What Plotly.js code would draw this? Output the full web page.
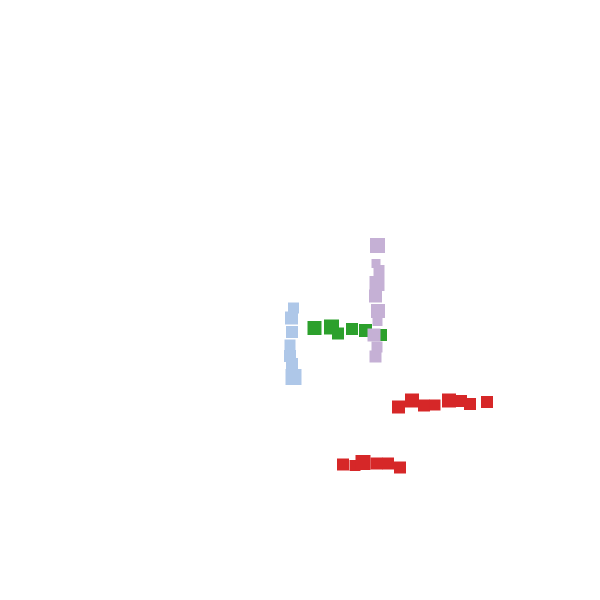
<!DOCTYPE html>
<html>
<head>
<meta charset="utf-8">
<script src="https://cdn.plot.ly/plotly-3.0.1.min.js"></script>
<style>
  html, body { margin: 0; padding: 0; background: #ffffff; }
  #chart { width: 600px; height: 600px; }
</style>
</head>
<body>
<div id="chart"></div>
<script>
// positions (plot units = pixels, y grows downward)
const blueX = [293.5, 291.5, 292, 290, 290, 292, 293.5];
const blueY = [308, 318, 332, 345, 356, 364, 377];
const blueSize = [11, 13, 12, 11, 12, 12, 16];

const greenX = [314.5, 331.5, 338, 352, 365.5, 381];
const greenY = [328, 327, 333.5, 329, 330.5, 335];
const greenSize = [14, 15, 12, 12, 13, 12];

const purpleX = [377.5, 376, 379, 377, 375.5, 378, 377.5, 374, 377, 375.5];
const purpleY = [245.5, 263.5, 270.5, 283.5, 296, 311, 321, 335, 347, 356.5];
const purpleSize = [15, 9, 11, 15, 13, 14, 10, 13, 11, 12];

const redX = [398.5, 412, 424, 435, 449, 461, 470, 487, 343, 355, 363, 376.5, 388, 400];
const redY = [407, 400.5, 405.5, 405, 400.5, 401, 404, 402, 464.5, 465.5, 462.5, 463.5, 463.5, 467.5];
const redSize = [13, 14, 12, 11, 14, 12, 12, 12, 12, 11, 15, 12, 12, 12];

const COLORS = {
  blue: "#aec7e8",
  green: "#2ca02c",
  purple: "#c5b0d5",
  red: "#d62728",
};

function squares(x, y, size, color) {
  return {
    type: "scatter",
    mode: "markers",
    x,
    y,
    hoverinfo: "skip",
    marker: { symbol: "square", size, color, opacity: 1, line: { width: 0 } },
  };
}

const traces = [
  squares(blueX, blueY, blueSize, COLORS.blue),
  squares(greenX, greenY, greenSize, COLORS.green),
  squares(purpleX, purpleY, purpleSize, COLORS.purple),
  squares(redX, redY, redSize, COLORS.red),
];

const hiddenAxis = {
  visible: false,
  showgrid: false,
  zeroline: false,
  fixedrange: true,
};

Plotly.newPlot("chart", traces, {
  width: 600,
  height: 600,
  margin: { l: 0, r: 0, t: 0, b: 0 },
  paper_bgcolor: "#ffffff",
  plot_bgcolor: "#ffffff",
  showlegend: false,
  xaxis: { ...hiddenAxis, range: [0, 600] },
  yaxis: { ...hiddenAxis, range: [600, 0] },
}, { staticPlot: true, displayModeBar: false });
</script>
</body>
</html>
